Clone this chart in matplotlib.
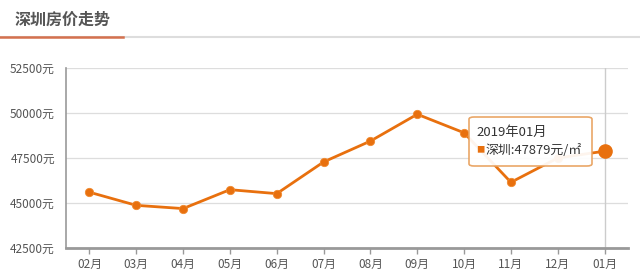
import matplotlib
matplotlib.use("Agg")
import matplotlib.pyplot as plt
from matplotlib.patches import FancyBboxPatch
from matplotlib.lines import Line2D

plt.rcParams['font.family'] = ['Noto Sans CJK SC', 'DejaVu Sans']

months = ['02月', '03月', '04月', '05月', '06月', '07月', '08月', '09月', '10月', '11月', '12月', '01月']
prices = [45600, 44870, 44690, 45740, 45520, 47280, 48440, 49930, 48900, 46150, 47500, 47879]
yticks = [42500, 45000, 47500, 50000, 52500]
title = '深圳房价走势'
tip_title = '2019年01月'
series_name = '深圳'

W, H = 640, 275
fig = plt.figure(figsize=(W / 100, H / 100), dpi=100)
fig.patch.set_facecolor('white')

def fx(px):
    return px / W

def fy(py):
    return 1 - py / H

# title and underline
fig.text(fx(15), fy(20), title, fontsize=11.5, fontweight='bold', color='#555555',
         ha='left', va='center')
fig.add_artist(Line2D([0, 1], [fy(37), fy(37)], color='#dddddd', lw=1.5, transform=fig.transFigure))
fig.add_artist(Line2D([0, fx(123)], [fy(37), fy(37)], color='#d4714e', lw=1.8, transform=fig.transFigure))

ax = fig.add_axes([fx(66), fy(248), fx(628) - fx(66), (248 - 68) / H])
x = list(range(len(months)))
orange = '#e8700e'
ax.plot(x, prices, color=orange, lw=2.0, marker='o', markersize=6,
        markerfacecolor=orange, markeredgecolor='#f08a30', markeredgewidth=0.6, zorder=3)
ax.plot([x[-1]], [prices[-1]], 'o', color=orange, markersize=9.5, zorder=4)

ax.set_xlim(-0.5, len(months) - 0.5)
ax.set_ylim(yticks[0], yticks[-1])
ax.set_yticks(yticks)
ax.set_yticklabels([f'{v}元' for v in yticks])
ax.set_xticks(x)
ax.set_xticklabels(months)
ax.tick_params(axis='y', length=0, pad=8, labelsize=8.5, labelcolor='#555555')
ax.tick_params(axis='x', length=4, width=1, color='#999999', pad=3, labelsize=8.5, labelcolor='#555555')
ax.grid(axis='y', color='#dddddd', lw=0.9)
ax.set_axisbelow(True)
for s in ['top', 'right']:
    ax.spines[s].set_visible(False)
ax.spines['left'].set_color('#999999')
ax.spines['left'].set_linewidth(1.2)
ax.spines['bottom'].set_color('#999999')
ax.spines['bottom'].set_linewidth(2)

# axis pointer
ax.axvline(x[-1], color='#cccccc', lw=1, zorder=2)

# tooltip
box = FancyBboxPatch((fx(469), fy(166)), fx(592) - fx(469), fy(117) - fy(166),
                     boxstyle='round,pad=0,rounding_size=0.008',
                     transform=fig.transFigure, facecolor='white', alpha=0.93,
                     edgecolor='#e8a05c', lw=1.2, zorder=10)
fig.add_artist(box)
fig.text(fx(476), fy(132), tip_title, fontsize=9.5, color='#333333', ha='left', va='center', zorder=11)
fig.text(fx(476), fy(150), '■', fontsize=6, color=orange, ha='left', va='center', zorder=11)
fig.text(fx(486), fy(150), f'{series_name}:{prices[-1]}元/㎡', fontsize=9.3, color='#333333',
         ha='left', va='center', zorder=11)

fig.savefig('out.png', dpi=100, facecolor='white')
